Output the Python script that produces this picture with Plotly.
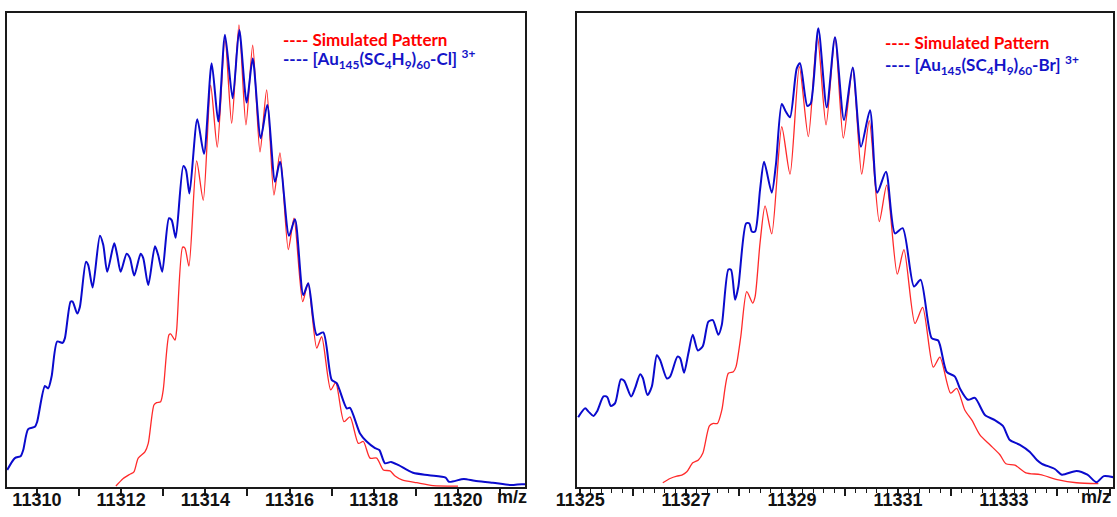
import plotly.graph_objects as go

# ---------------- Au145 cluster with Cl adduct (3+) ----------------
cl_exp_mz = [11309.295, 11309.477, 11309.613, 11309.675, 11309.793, 11309.952, 11310.007, 11310.190,
             11310.268, 11310.349, 11310.482, 11310.610, 11310.665, 11310.800, 11310.848, 11310.957,
             11311.021, 11311.164, 11311.219, 11311.323, 11311.496, 11311.575, 11311.670, 11311.836,
             11311.907, 11311.988, 11312.131, 11312.209, 11312.311, 11312.463, 11312.525, 11312.644,
             11312.803, 11312.881, 11312.976, 11313.135, 11313.200, 11313.295, 11313.475, 11313.539,
             11313.622, 11313.808, 11313.967, 11314.150, 11314.306, 11314.466, 11314.648, 11314.805,
             11314.981, 11315.124, 11315.314, 11315.470, 11315.653, 11315.772, 11315.986, 11316.128,
             11316.325, 11316.444, 11316.644, 11316.800, 11317.000, 11317.119, 11317.356, 11317.435,
             11317.672, 11317.831, 11318.029, 11318.131, 11318.266, 11318.409, 11318.589, 11318.931,
             11319.311, 11319.705, 11319.786, 11320.138, 11320.394, 11320.827, 11321.259, 11321.513,
             11321.686]
cl_exp_int = [3.6, 6.1, 6.5, 7.8, 12.2, 12.7, 13.8, 21.3,
              20.8, 23.3, 30.7, 30.4, 31.4, 39.1, 39.1, 36.6,
              38.0, 47.5, 46.8, 42.1, 53.0, 51.1, 45.4, 51.4,
              48.9, 45.4, 49.2, 48.3, 44.6, 49.2, 48.3, 42.6,
              50.8, 48.9, 45.4, 56.7, 56.3, 52.6, 67.7, 66.9,
              61.9, 77.6, 70.3, 89.4, 77.1, 95.4, 82.0, 96.4,
              81.1, 90.4, 73.6, 80.6, 64.4, 68.6, 53.0, 56.5,
              40.5, 43.0, 32.1, 32.6, 22.6, 21.9, 16.6, 16.7,
              11.3, 9.6, 8.2, 7.8, 5.0, 5.3, 4.6, 3.0,
              2.5, 2.0, 1.1, 1.7, 1.3, 0.9, 0.4, 0.6,
              0.5]

cl_sim_mz = [11311.876, 11312.050, 11312.209, 11312.304, 11312.406, 11312.565, 11312.644, 11312.779,
             11312.843, 11312.938, 11313.000, 11313.135, 11313.176, 11313.278, 11313.318, 11313.461,
             11313.515, 11313.610, 11313.793, 11313.950, 11314.126, 11314.283, 11314.466, 11314.625,
             11314.798, 11314.964, 11315.124, 11315.297, 11315.456, 11315.629, 11315.772, 11315.969,
             11316.105, 11316.311, 11316.437, 11316.644, 11316.762, 11316.976, 11317.095, 11317.292,
             11317.435, 11317.632, 11317.751, 11317.910, 11318.069, 11318.226, 11318.385, 11318.504,
             11318.670, 11319.019, 11319.406, 11320.000]
cl_sim_int = [0.2, 1.8, 2.7, 3.2, 6.1, 7.4, 9.2, 17.3,
              17.8, 18.0, 20.5, 32.1, 32.3, 31.0, 33.1, 50.6,
              50.4, 46.6, 68.8, 60.5, 84.8, 71.7, 94.7, 76.7,
              97.5, 76.4, 93.2, 70.7, 83.8, 61.6, 70.5, 50.1,
              56.7, 39.1, 43.0, 29.3, 31.7, 20.5, 22.0, 13.8,
              14.8, 9.2, 9.6, 6.1, 6.1, 3.6, 3.4, 2.3,
              1.5, 0.9, 0.3, 0.2]

# ---------------- Au145 cluster with Br adduct (3+) ----------------
br_exp_mz = [11324.962, 11325.094, 11325.157, 11325.251, 11325.321, 11325.440, 11325.509, 11325.579,
             11325.660, 11325.768, 11325.830, 11325.962, 11326.038, 11326.132, 11326.183, 11326.270,
             11326.353, 11326.447, 11326.509, 11326.636, 11326.698, 11326.836, 11326.887, 11326.962,
             11327.043, 11327.126, 11327.221, 11327.315, 11327.421, 11327.504, 11327.609, 11327.674,
             11327.798, 11327.849, 11327.925, 11327.987, 11328.132, 11328.194, 11328.240, 11328.302,
             11328.396, 11328.472, 11328.617, 11328.698, 11328.806, 11328.887, 11328.962, 11329.089,
             11329.151, 11329.289, 11329.353, 11329.496, 11329.655, 11329.811, 11329.981, 11330.145,
             11330.302, 11330.472, 11330.609, 11330.774, 11330.943, 11331.089, 11331.302, 11331.428,
             11331.636, 11331.760, 11331.919, 11332.075, 11332.170, 11332.321, 11332.453, 11332.642,
             11332.830, 11332.981, 11333.113, 11333.302, 11333.491, 11333.623, 11333.717, 11333.962,
             11334.094, 11334.372, 11334.577, 11334.749, 11334.887, 11335.094]
br_exp_int = [14.7, 16.6, 15.9, 15.0, 16.0, 19.1, 19.0, 17.1,
              17.7, 22.7, 22.4, 19.1, 20.9, 23.8, 23.0, 19.4,
              21.2, 27.8, 26.8, 22.9, 23.3, 27.5, 27.2, 24.1,
              28.2, 32.1, 28.8, 29.7, 34.9, 35.2, 32.1, 34.2,
              45.9, 45.8, 39.5, 42.3, 55.6, 55.6, 53.9, 53.9,
              62.7, 68.6, 62.1, 68.3, 80.8, 79.1, 78.0, 88.3,
              89.4, 80.4, 80.9, 96.8, 80.1, 94.9, 77.4, 88.5,
              71.8, 79.5, 62.1, 66.5, 53.5, 54.6, 42.3, 43.7,
              31.4, 30.9, 24.3, 23.3, 20.8, 18.4, 18.8, 15.2,
              14.1, 12.9, 9.9, 8.9, 7.4, 5.7, 4.9, 3.8,
              2.6, 3.4, 2.6, 1.0, 2.3, 2.0]

br_sim_mz = [11326.560, 11326.698, 11326.825, 11326.919, 11327.013, 11327.126, 11327.232, 11327.315,
             11327.440, 11327.515, 11327.591, 11327.674, 11327.798, 11327.892, 11327.943, 11328.032,
             11328.145, 11328.258, 11328.302, 11328.396, 11328.491, 11328.617, 11328.806, 11328.962,
             11329.138, 11329.308, 11329.477, 11329.642, 11329.811, 11329.968, 11330.145, 11330.315,
             11330.458, 11330.647, 11330.787, 11330.987, 11331.113, 11331.321, 11331.466, 11331.666,
             11331.792, 11331.994, 11332.108, 11332.264, 11332.396, 11332.547, 11332.736, 11332.925,
             11333.038, 11333.208, 11333.415, 11333.689, 11334.030, 11334.372, 11334.783]
br_sim_int = [0.9, 1.8, 2.3, 2.5, 3.2, 5.1, 5.7, 7.1,
              12.9, 13.4, 13.4, 16.2, 24.0, 24.3, 25.4, 31.7,
              41.2, 38.8, 40.1, 51.5, 59.3, 53.4, 76.0, 66.0,
              88.7, 73.9, 95.4, 76.4, 94.9, 73.6, 88.3, 66.0,
              77.3, 56.0, 63.7, 44.9, 50.1, 34.5, 37.9, 25.3,
              27.4, 19.8, 20.8, 16.2, 14.1, 11.0, 8.9, 6.8,
              4.9, 4.6, 3.0, 2.6, 1.5, 0.9, 0.7]

# Tick positions and labels
cl_ticks = list(range(11310, 11322))
cl_ticklabels = [str(t) if t % 2 == 0 else "" for t in cl_ticks]
br_ticks = list(range(11325, 11336))
br_ticklabels = [str(t) if t % 2 == 1 else "" for t in br_ticks]

SIM_RED = "#FF2A2A"
EXP_BLUE = "#0A0ACD"
W, H = 1117, 517

fig = go.Figure()

fig.add_trace(go.Scatter(x=cl_sim_mz, y=cl_sim_int, mode="lines", xaxis="x", yaxis="y",
                         line=dict(color=SIM_RED, width=1.3, shape="spline", smoothing=0.7)))
fig.add_trace(go.Scatter(x=cl_exp_mz, y=cl_exp_int, mode="lines", xaxis="x", yaxis="y",
                         line=dict(color=EXP_BLUE, width=2, shape="spline", smoothing=0.7)))
fig.add_trace(go.Scatter(x=br_sim_mz, y=br_sim_int, mode="lines", xaxis="x2", yaxis="y2",
                         line=dict(color=SIM_RED, width=1.3, shape="spline", smoothing=0.7)))
fig.add_trace(go.Scatter(x=br_exp_mz, y=br_exp_int, mode="lines", xaxis="x2", yaxis="y2",
                         line=dict(color=EXP_BLUE, width=2, shape="spline", smoothing=0.7)))

tickfont = dict(family="Liberation Sans, Arial", size=18, color="#111", weight="bold")
frame = dict(showline=True, linecolor="#1a1a1a", linewidth=2, mirror=True,
             showgrid=False, zeroline=False, automargin=False)

y_dom = [(H - 487) / H, (H - 13) / H]

fig.update_layout(
    width=W, height=H,
    margin=dict(l=0, r=0, t=0, b=0),
    paper_bgcolor="white", plot_bgcolor="white",
    showlegend=False,
    xaxis=dict(domain=[7 / W, 525 / W], range=[11309.29, 11321.59],
               tickmode="array", tickvals=cl_ticks, ticktext=cl_ticklabels,
               ticks="outside", ticklen=7, tickwidth=1.5, tickcolor="#1a1a1a",
               ticklabelstandoff=-12,
               tickfont=tickfont, anchor="y", **frame),
    yaxis=dict(domain=y_dom, range=[0, 100], showticklabels=False, ticks="",
               anchor="x", **frame),
    xaxis2=dict(domain=[577 / W, 1113 / W], range=[11324.94, 11335.06],
                tickmode="array", tickvals=br_ticks, ticktext=br_ticklabels,
                ticks="outside", ticklen=7, tickwidth=1.5, tickcolor="#1a1a1a",
                ticklabelstandoff=-12,
                minor=dict(tick0=11325, dtick=0.2, ticks="outside", ticklen=4,
                           tickwidth=1.2, tickcolor="#1a1a1a"),
                tickfont=tickfont, anchor="y2", **frame),
    yaxis2=dict(domain=y_dom, range=[0, 100], showticklabels=False, ticks="",
                anchor="x2", **frame),
)

legend_font = "Lato, Open Sans, sans-serif"
annotations = [
    # axis unit labels
    dict(x=512 / W, y=(H - 497) / H, text="<b>m/z</b>", showarrow=False, xref="paper", yref="paper",
         xanchor="center", yanchor="middle", font=dict(family="Liberation Sans, Arial", size=18, color="#111")),
    dict(x=1096 / W, y=(H - 497) / H, text="<b>m/z</b>", showarrow=False, xref="paper", yref="paper",
         xanchor="center", yanchor="middle", font=dict(family="Liberation Sans, Arial", size=18, color="#111")),
    # legend texts, Cl panel
    dict(x=281 / W, y=(H - 39) / H, text="<b>---- Simulated Pattern</b>", showarrow=False,
         xref="paper", yref="paper", xanchor="left", yanchor="middle",
         font=dict(family=legend_font, size=17, color="#FF0000")),
    dict(x=281 / W, y=(H - 59) / H,
         text="<b>---- [Au<sub>145</sub>(SC<sub>4</sub>H<sub>9</sub>)<sub>60</sub>-Cl]</b> <b><sup>3+</sup></b>",
         showarrow=False, xref="paper", yref="paper", xanchor="left", yanchor="middle",
         font=dict(family=legend_font, size=17, color="#1414C8")),
    # legend texts, Br panel
    dict(x=883 / W, y=(H - 43) / H, text="<b>---- Simulated Pattern</b>", showarrow=False,
         xref="paper", yref="paper", xanchor="left", yanchor="middle",
         font=dict(family=legend_font, size=17, color="#FF0000")),
    dict(x=883 / W, y=(H - 65) / H,
         text="<b>---- [Au<sub>145</sub>(SC<sub>4</sub>H<sub>9</sub>)<sub>60</sub>-Br]</b> <b><sup>3+</sup></b>",
         showarrow=False, xref="paper", yref="paper", xanchor="left", yanchor="middle",
         font=dict(family=legend_font, size=17, color="#1414C8")),
]
fig.update_layout(annotations=annotations)

fig.write_html("out.html")
